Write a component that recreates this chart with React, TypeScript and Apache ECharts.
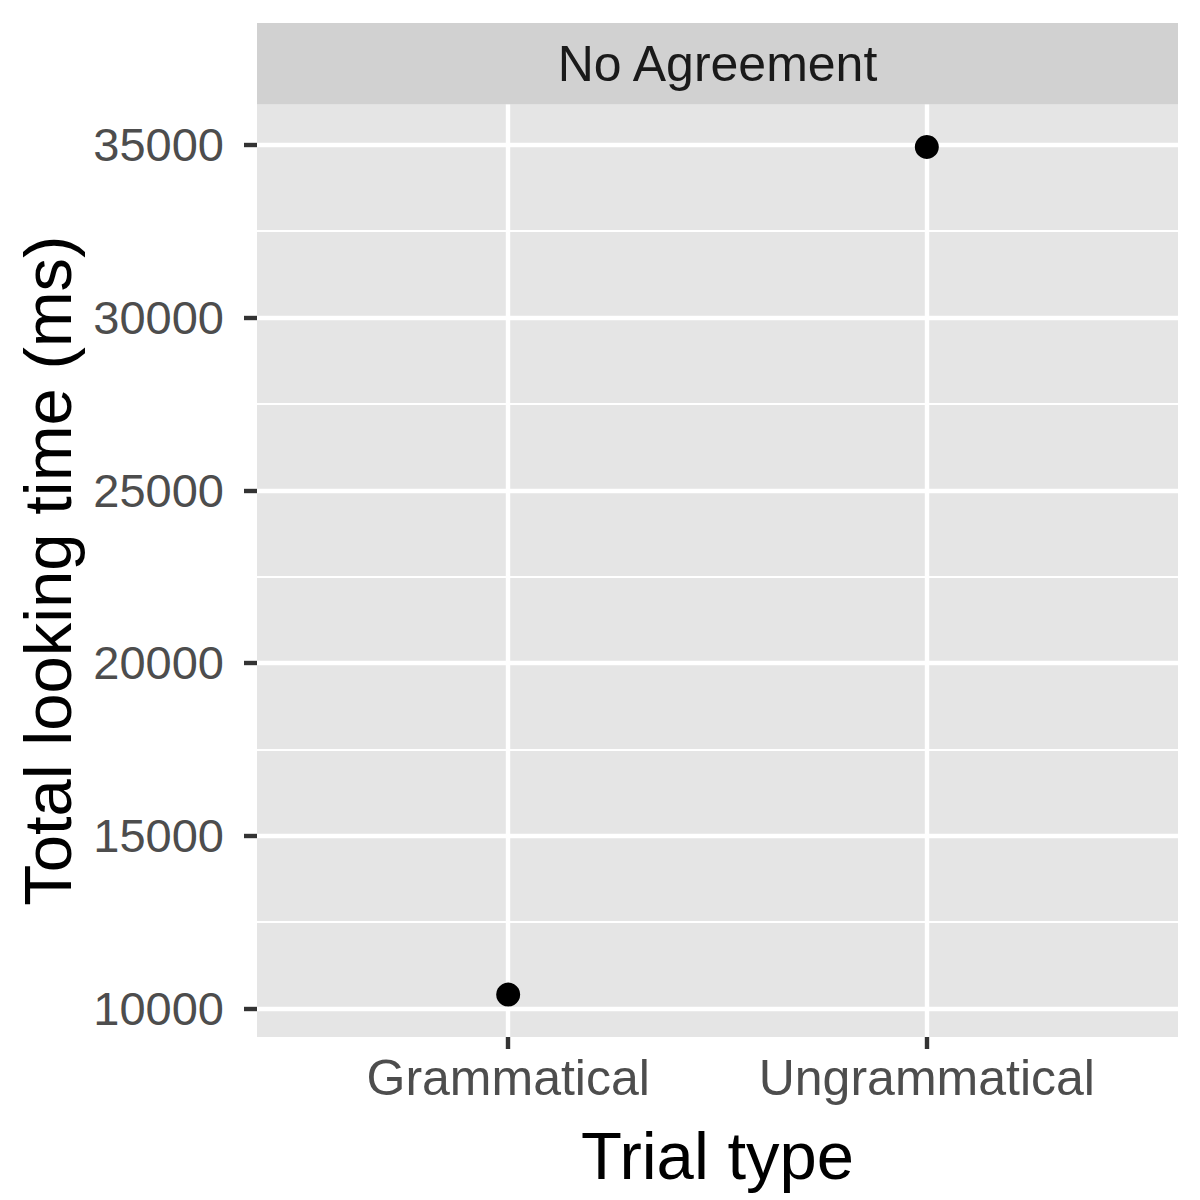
import React, { useEffect, useRef } from "react";
import * as echarts from "echarts";

const categories = ["Grammatical", "Ungrammatical"];
const lookingTime = [10400, 34940];
const yMajorTicks = [10000, 15000, 20000, 25000, 30000, 35000];
const yMinorTicks = [12500, 17500, 22500, 27500, 32500];
const facetLabel = "No Agreement";
const xTitle = "Trial type";
const yTitle = "Total looking time (ms)";

const FONT = "'Liberation Sans', Arial, Helvetica, sans-serif";

export default function App() {
  const ref = useRef<HTMLDivElement>(null);
  useEffect(() => {
    document.body.style.margin = "0";
    if (!ref.current) return;
    const chart = echarts.init(ref.current, undefined, { renderer: "svg" });
    const lo = Math.min(...lookingTime);
    const hi = Math.max(...lookingTime);
    const pad = (hi - lo) * 0.05;
    const xPositions = categories.map((_, i) => i + 1);
    const gridLeft = 257;
    const gridRight = 22;
    const gridTop = 104.5;
    const gridBottom = 163;
    const panelW = 1200 - gridLeft - gridRight;
    const panelCx = gridLeft + panelW / 2;
    const panelCy = gridTop + (1200 - gridTop - gridBottom) / 2;

    chart.setOption({
      animation: false,
      grid: {
        left: gridLeft,
        right: gridRight,
        top: gridTop,
        bottom: gridBottom,
        show: true,
        backgroundColor: "#E5E5E5",
        borderWidth: 0,
      },
      xAxis: {
        type: "value",
        min: 0.4,
        max: categories.length + 0.6,
        axisLine: { show: false },
        axisTick: {
          show: true,
          customValues: xPositions,
          length: 12,
          lineStyle: { color: "#333333", width: 4.4 },
        },
        axisLabel: {
          customValues: xPositions,
          formatter: (v: number) => categories[Math.round(v) - 1] ?? "",
          color: "#4D4D4D",
          fontSize: 50,
          fontFamily: FONT,
          margin: 16,
        },
        splitLine: { show: true, lineStyle: { color: "#FFFFFF", width: 4.4 } },
      },
      yAxis: {
        type: "value",
        min: lo - pad,
        max: hi + pad,
        axisLine: { show: false },
        axisTick: {
          show: true,
          customValues: yMajorTicks,
          length: 13,
          lineStyle: { color: "#333333", width: 4.4 },
        },
        axisLabel: {
          customValues: yMajorTicks,
          formatter: (v: number) => String(Math.round(v)),
          color: "#4D4D4D",
          fontSize: 47,
          fontFamily: FONT,
          margin: 33,
        },
        splitLine: { show: true, lineStyle: { color: "#FFFFFF", width: 4.4 } },
      },
      series: [
        {
          type: "scatter",
          data: categories.map((_, i) => [xPositions[i], lookingTime[i]]),
          symbol: "circle",
          symbolSize: 24,
          itemStyle: { color: "#000000", opacity: 1 },
          z: 5,
          markLine: {
            silent: true,
            symbol: "none",
            label: { show: false },
            lineStyle: { color: "#FFFFFF", width: 2.2, type: "solid", opacity: 1 },
            data: yMinorTicks.map((v) => ({ yAxis: v })),
            z: 1,
          },
        },
      ],
      graphic: [
        {
          type: "rect",
          shape: { x: gridLeft, y: 23, width: panelW, height: gridTop - 23 },
          style: { fill: "#D1D1D1" },
          silent: true,
        },
        {
          type: "text",
          x: panelCx,
          y: 64,
          style: {
            text: facetLabel,
            font: `50px ${FONT}`,
            fill: "#1A1A1A",
            align: "center",
            verticalAlign: "middle",
          },
        },
        {
          type: "text",
          x: panelCx,
          y: 1155,
          style: {
            text: xTitle,
            font: `67px ${FONT}`,
            fill: "#000000",
            align: "center",
            verticalAlign: "middle",
          },
        },
        {
          type: "text",
          x: 47,
          y: panelCy,
          rotation: Math.PI / 2,
          style: {
            text: yTitle,
            font: `67px ${FONT}`,
            fill: "#000000",
            align: "center",
            verticalAlign: "middle",
          },
        },
      ],
    });
    return () => chart.dispose();
  }, []);
  return <div ref={ref} style={{ width: 1200, height: 1200 }} />;
}
